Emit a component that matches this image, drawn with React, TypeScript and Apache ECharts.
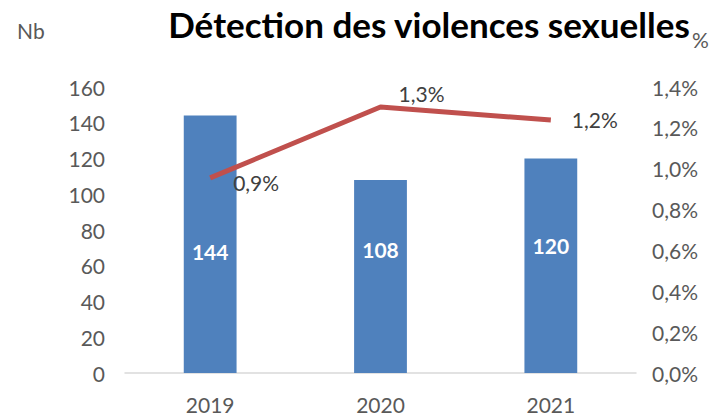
import React, { useEffect, useRef } from "react";
import * as echarts from "echarts";

const categories = ["2019", "2020", "2021"];
const counts = [144, 108, 120];
const rates = [0.955, 1.302, 1.238];
const rateLabels = ["0,9%", "1,3%", "1,2%"];
const countLabelDistance = [111, 113, 117];

const FONT = "Lato, 'Open Sans', sans-serif";
const GREY = "#595959";

export default function App() {
  const ref = useRef<HTMLDivElement>(null);
  useEffect(() => {
    if (!ref.current) return;
    const chart = echarts.init(ref.current, null, { renderer: "svg" });
    chart.setOption({
      animation: false,
      textStyle: { fontFamily: FONT },
      title: {
        text: "Détection des violences sexuelles",
        left: 424,
        textAlign: "center",
        top: 1,
        textStyle: { fontFamily: FONT, fontSize: 35, fontWeight: "bold", color: "#000" },
      },
      graphic: [
        { type: "text", left: 17, top: 20, style: { text: "Nb", font: `21px ${FONT}`, fill: GREY } },
        { type: "text", left: 692, top: 29, style: { text: "%", font: `21px ${FONT}`, fill: GREY } },
      ],
      grid: { left: 125, right: 86, top: 87, bottom: 43 },
      xAxis: {
        type: "category",
        data: categories,
        axisLine: { lineStyle: { color: "#D9D9D9", width: 1.5 } },
        axisTick: { show: false },
        axisLabel: { color: GREY, fontSize: 21, margin: 21, fontFamily: FONT },
      },
      yAxis: [
        {
          type: "value",
          min: 0,
          max: 160,
          interval: 20,
          splitLine: { show: false },
          axisLine: { show: false },
          axisTick: { show: false },
          axisLabel: { color: GREY, fontSize: 21, margin: 20, fontFamily: FONT },
        },
        {
          type: "value",
          min: 0,
          max: 1.4,
          interval: 0.2,
          position: "right",
          splitLine: { show: false },
          axisLine: { show: false },
          axisTick: { show: false },
          axisLabel: {
            color: GREY,
            fontSize: 21,
            margin: 16,
            fontFamily: FONT,
            formatter: (v: number) => v.toFixed(1).replace(".", ",") + "%",
          },
        },
      ],
      series: [
        {
          type: "bar",
          yAxisIndex: 0,
          barWidth: "31%",
          itemStyle: { color: "#4F81BD" },
          data: counts.map((v, i) => ({
            value: v,
            label: {
              show: true,
              position: "insideBottom",
              distance: countLabelDistance[i],
              color: "#fff",
              fontWeight: "bold",
              fontSize: 21,
              fontFamily: FONT,
            },
          })),
        },
        {
          type: "line",
          yAxisIndex: 1,
          symbol: "circle",
          symbolSize: 0,
          showSymbol: true,
          itemStyle: { color: "#C0504D" },
          lineStyle: { color: "#C0504D", width: 5 },
          data: rates.map((v, i) => ({
            value: v,
            label: {
              show: true,
              formatter: rateLabels[i],
              color: "#404040",
              fontSize: 21,
              fontFamily: FONT,
              position: i === 0 ? [23, -6] : i === 1 ? [18, -24] : [21, -11],
            },
          })),
        },
      ],
    });
    return () => chart.dispose();
  }, []);
  return <div ref={ref} style={{ width: 722, height: 416, position: "absolute", left: 0, top: 0 }} />;
}
